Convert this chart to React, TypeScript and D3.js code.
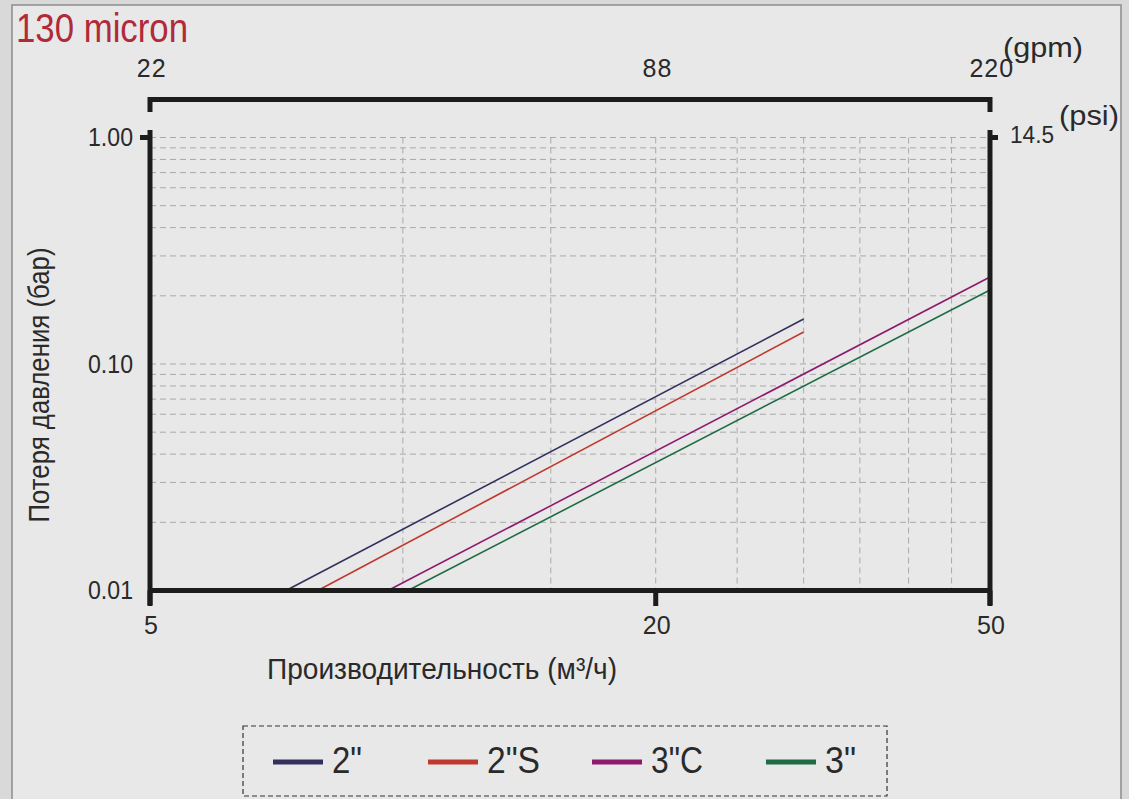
import React from "react";
import * as d3 from "d3";

// ---------- data ----------
const flowDomain = [5, 50]; // m3/h
const dropDomain = [0.01, 1]; // bar
const xTickValues = [5, 20, 50];
const xTickLabels = ["5", "20", "50"];
const yTickValues = [0.01, 0.1, 1];
const yTickLabels = ["0.01", "0.10", "1.00"];
const gpmTickLabels = ["22", "88", "220"];
const gpmPerM3h = 4.403;
const psiLabel = "14.5";
const psiPerBar = 14.5;
const xGridValues = [10, 15, 20, 25, 30, 35, 40, 45];
const yGridValues = [
  0.02, 0.03, 0.04, 0.05, 0.06, 0.07, 0.08, 0.09, 0.1,
  0.2, 0.3, 0.4, 0.5, 0.6, 0.7, 0.8, 0.9, 1,
];

const seriesNames = ['2"', '2"S', '3"C', '3"'];
const seriesColors = ["#33305e", "#c0392e", "#8e1a6e", "#1e6b46"];
const flow2 = [7.26, 30];
const drop2 = [0.01, 0.158];
const flow2S = [7.92, 30];
const drop2S = [0.01, 0.1384];
const flow3C = [9.6, 50];
const drop3C = [0.01, 0.2421];
const flow3 = [10.14, 50];
const drop3 = [0.01, 0.2122];
const seriesFlows = [flow2, flow2S, flow3C, flow3];
const seriesDrops = [drop2, drop2S, drop3C, drop3];

// ---------- layout ----------
const W = 1129;
const H = 799;
const left = 150;
const right = 990;
const top = 137.5;
const bottom = 590.5;
const legendLineX = [273, 428, 592, 766];
const legendTextW = [30, 53, 52, 31];

const FONT = "'Liberation Sans', Arial, sans-serif";
const TXT = "#2a2a2a";

export default function App() {
  const x = d3.scaleLog().domain(flowDomain).range([left, right]);
  const y = d3.scaleLog().domain(dropDomain).range([bottom, top]);
  const line = d3
    .line<[number, number]>()
    .x((d) => x(d[0]))
    .y((d) => y(d[1]));

  const axisW = 5;

  return (
    <svg
      width={W}
      height={H}
      style={{ position: "absolute", left: 0, top: 0, display: "block" }}
      fontFamily={FONT}
    >
      <rect x={0} y={0} width={W} height={H} fill="#d9d9d9" />
      <rect x={12} y={5} width={1109} height={H} fill="#e8e8e8" stroke="#8c8c8c" strokeWidth={1.5} />

      {/* title */}
      <text x={16} y={42} fontSize={40} fill="#b02a38" textLength={172} lengthAdjust="spacingAndGlyphs">
        130 micron
      </text>

      {/* grid */}
      <g stroke="#a9a9a9" strokeWidth={1} strokeDasharray="6,4" fill="none">
        {yGridValues.map((v) => (
          <line key={"gy" + v} x1={left} x2={right} y1={y(v)} y2={y(v)} />
        ))}
        {xGridValues.map((v) => (
          <line key={"gx" + v} x1={x(v)} x2={x(v)} y1={top} y2={bottom} />
        ))}
      </g>

      {/* series */}
      {seriesFlows.map((fl, i) => {
        const pts = fl.map((f, j) => [f, seriesDrops[i][j]] as [number, number]);
        return (
          <path key={seriesNames[i]} d={line(pts) || ""} fill="none" stroke={seriesColors[i]} strokeWidth={1.6} />
        );
      })}

      {/* axes */}
      <g stroke="#1c1c1c" strokeWidth={axisW} fill="none">
        {/* top gpm axis bar */}
        <path d={`M${left},112 V99.5 H${right} V112`} />
        {/* left axis */}
        <line x1={left} x2={left} y1={130} y2={605} />
        <line x1={140} x2={left} y1={y(1)} y2={y(1)} />
        {/* right axis */}
        <line x1={right} x2={right} y1={130} y2={605} />
        <line x1={right} x2={998} y1={y(1)} y2={y(1)} />
        {/* bottom axis */}
        <line x1={left} x2={right} y1={bottom} y2={bottom} />
        {xTickValues.map((v) => (
          <line key={"xt" + v} x1={x(v)} x2={x(v)} y1={bottom} y2={606} />
        ))}
      </g>

      {/* y tick labels */}
      {yTickValues.map((v, i) => (
        <text key={"yl" + v} x={133} y={y(v) + 8.5} fontSize={25} fill={TXT} textAnchor="end" textLength={45} lengthAdjust="spacingAndGlyphs">
          {yTickLabels[i]}
        </text>
      ))}
      {/* x tick labels */}
      {xTickValues.map((v, i) => (
        <text key={"xl" + v} x={x(v) + 1} y={634} fontSize={25} fill={TXT} textAnchor="middle">
          {xTickLabels[i]}
        </text>
      ))}
      {/* gpm labels */}
      {gpmTickLabels.map((g) => (
        <text key={"g" + g} x={x(+g / gpmPerM3h) + 2} y={77} fontSize={25} fill={TXT} textAnchor="middle" letterSpacing={1}>
          {g}
        </text>
      ))}
      <text x={1003} y={57} fontSize={28} fill={TXT} textLength={80} lengthAdjust="spacingAndGlyphs">
        (gpm)
      </text>
      {/* psi */}
      <text x={1010} y={y(+psiLabel / psiPerBar) + 5} fontSize={24} fill={TXT} textLength={44} lengthAdjust="spacingAndGlyphs">
        {psiLabel}
      </text>
      <text x={1059} y={125} fontSize={28} fill={TXT} textLength={60} lengthAdjust="spacingAndGlyphs">
        (psi)
      </text>

      {/* axis titles */}
      <text x={442} y={679} fontSize={30} fill={TXT} textAnchor="middle" textLength={350} lengthAdjust="spacingAndGlyphs">
        Производительность (м³/ч)
      </text>
      <text
        transform={`translate(49,385) rotate(-90)`}
        fontSize={29}
        fill={TXT}
        textAnchor="middle"
        textLength={275}
        lengthAdjust="spacingAndGlyphs"
      >
        Потеря давления (бар)
      </text>

      {/* legend */}
      <rect x={243} y={726} width={644} height={70} fill="none" stroke="#333" strokeWidth={1.2} strokeDasharray="5,3" />
      {seriesNames.map((n, i) => (
        <g key={"lg" + n}>
          <line x1={legendLineX[i]} x2={legendLineX[i] + 50} y1={762} y2={762} stroke={seriesColors[i]} strokeWidth={5} />
          <text x={legendLineX[i] + 59} y={773} fontSize={36} fill={TXT} textLength={legendTextW[i]} lengthAdjust="spacingAndGlyphs">
            {n}
          </text>
        </g>
      ))}
    </svg>
  );
}
